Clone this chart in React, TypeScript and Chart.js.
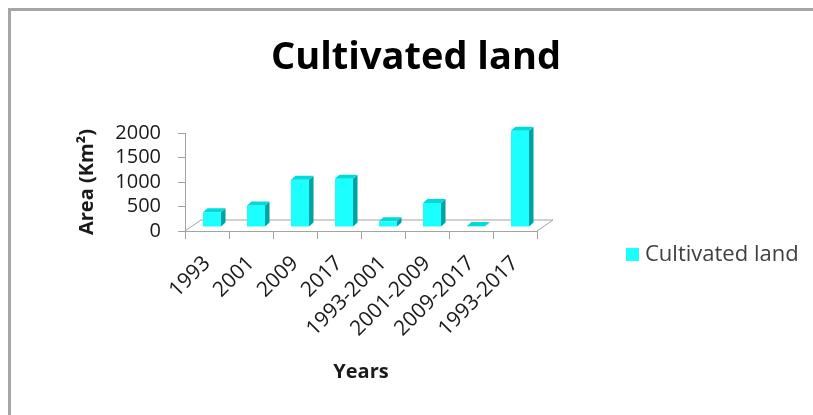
import { useEffect, useRef } from "react";
import { Chart, registerables } from "chart.js";

Chart.register(...registerables);

// ---- data ----
const categories = ["1993", "2001", "2009", "2017", "1993-2001", "2001-2009", "2009-2017", "1993-2017"];
const cultivatedLand = [300, 440, 965, 985, 115, 490, 20, 1965];
const yTickValues = [0, 500, 1000, 1500, 2000];
const chartTitle = "Cultivated land";
const seriesLabel = "Cultivated land";
const xAxisTitle = "Years";
const yAxisTitle = "Area (Km²)";

const FONT = "'Open Sans', 'Noto Sans', sans-serif";
const AXIS_GREY = "#a3a3a3";
const FRONT = "#1cffff";
const SIDE = "#00a3a3";
const TOP = "#00dada";
const BAR_DX = 4.5;
const BAR_DY = -4;
const FLOOR_DX = 16;
const FLOOR_DY = -11;

const decorPlugin = {
  id: "decor",
  beforeDraw(chart: any) {
    const { ctx, width, height } = chart;
    ctx.save();
    ctx.fillStyle = "#ffffff";
    ctx.fillRect(0, 0, width, height);
    // frame (top + left edges)
    ctx.strokeStyle = "#a6a6a6";
    ctx.lineWidth = 3;
    ctx.beginPath();
    ctx.moveTo(width, 9.5);
    ctx.lineTo(9.5, 9.5);
    ctx.lineTo(9.5, height);
    ctx.stroke();
    // title
    ctx.fillStyle = "#000000";
    ctx.font = `bold 38px ${FONT}`;
    ctx.textAlign = "center";
    ctx.textBaseline = "middle";
    ctx.fillText(chartTitle, 416, 58);
    // legend
    const ds = chart.data.datasets[0];
    ctx.fillStyle = ds.backgroundColor;
    ctx.fillRect(626, 248, 13, 13);
    ctx.fillStyle = "#404040";
    ctx.font = `22px ${FONT}`;
    ctx.textAlign = "left";
    ctx.fillText(ds.label, 645, 255);
    ctx.restore();
  },
  beforeDatasetsDraw(chart: any) {
    const { ctx, chartArea } = chart;
    const { left, right, bottom } = chartArea;
    ctx.save();
    ctx.strokeStyle = AXIS_GREY;
    ctx.lineWidth = 1;
    ctx.beginPath();
    ctx.moveTo(left, bottom);
    ctx.lineTo(left + FLOOR_DX, bottom + FLOOR_DY);
    ctx.lineTo(right + FLOOR_DX, bottom + FLOOR_DY);
    ctx.lineTo(right, bottom);
    ctx.stroke();
    ctx.restore();
    ctx.save();
    ctx.translate(5, -4);
  },
  afterDatasetsDraw(chart: any) {
    const { ctx } = chart;
    const meta = chart.getDatasetMeta(0);
    meta.data.forEach((el: any) => {
      const { x, y, base, width } = el.getProps(["x", "y", "base", "width"], true);
      const l = x - width / 2;
      const r = x + width / 2;
      ctx.fillStyle = SIDE;
      ctx.beginPath();
      ctx.moveTo(r, y);
      ctx.lineTo(r + BAR_DX, y + BAR_DY);
      ctx.lineTo(r + BAR_DX, base + BAR_DY);
      ctx.lineTo(r, base);
      ctx.closePath();
      ctx.fill();
      ctx.fillStyle = TOP;
      ctx.beginPath();
      ctx.moveTo(l, y);
      ctx.lineTo(l + BAR_DX, y + BAR_DY);
      ctx.lineTo(r + BAR_DX, y + BAR_DY);
      ctx.lineTo(r, y);
      ctx.closePath();
      ctx.fill();
    });
    ctx.restore();
  },
};

export default function App() {
  const ref = useRef<HTMLCanvasElement>(null);

  useEffect(() => {
    if (!ref.current) return;
    const chart = new Chart(ref.current, {
      type: "bar",
      data: {
        labels: categories,
        datasets: [
          {
            label: seriesLabel,
            data: cultivatedLand,
            backgroundColor: FRONT,
            borderWidth: 0,
            categoryPercentage: 1,
            barPercentage: 0.41,
            clip: false as any,
          },
        ],
      },
      options: {
        responsive: false,
        animation: false,
        layout: { padding: { left: 30, right: 276, top: 133, bottom: 10 } },
        plugins: {
          legend: { display: false },
          title: { display: false },
          tooltip: { enabled: false },
        },
        scales: {
          x: {
            grid: {
              display: true,
              drawOnChartArea: false,
              drawTicks: true,
              tickLength: 8,
              color: AXIS_GREY,
              offset: true,
            },
            border: { display: true, color: AXIS_GREY, width: 1 },
            ticks: {
              autoSkip: false,
              minRotation: 45,
              maxRotation: 45,
              padding: 12,
              color: "#1a1a1a",
              font: { family: FONT, size: 21 },
            },
            title: {
              display: true,
              text: xAxisTitle,
              color: "#1a1a1a",
              font: { family: FONT, size: 20, weight: "bold" },
              padding: { top: 0, bottom: 21 },
            },
            afterFit: (s: any) => {
              s.height = 174;
            },
          },
          y: {
            min: 0,
            max: 2000,
            afterBuildTicks: (s: any) => {
              s.ticks = yTickValues.map((v) => ({ value: v }));
            },
            grid: {
              display: true,
              drawOnChartArea: false,
              tickLength: 7,
              color: AXIS_GREY,
            },
            border: { display: true, color: AXIS_GREY, width: 1 },
            ticks: {
              autoSkip: false,
              padding: 17,
              color: "#1a1a1a",
              font: { family: FONT, size: 20, lineHeight: 1 },
              callback: (v: any) => String(v),
            },
            title: {
              display: true,
              text: yAxisTitle,
              color: "#1a1a1a",
              font: { family: FONT, size: 20, weight: "bold" },
              padding: { top: 45, bottom: 0 },
            },
            afterFit: (s: any) => {
              s.width = 155;
            },
          },
        },
      },
      plugins: [decorPlugin],
    });
    return () => chart.destroy();
  }, []);

  return (
    <div style={{ position: "fixed", left: 0, top: 0, width: 813, height: 415, background: "#fff" }}>
      <canvas ref={ref} width={813} height={415} style={{ display: "block" }} />
    </div>
  );
}
